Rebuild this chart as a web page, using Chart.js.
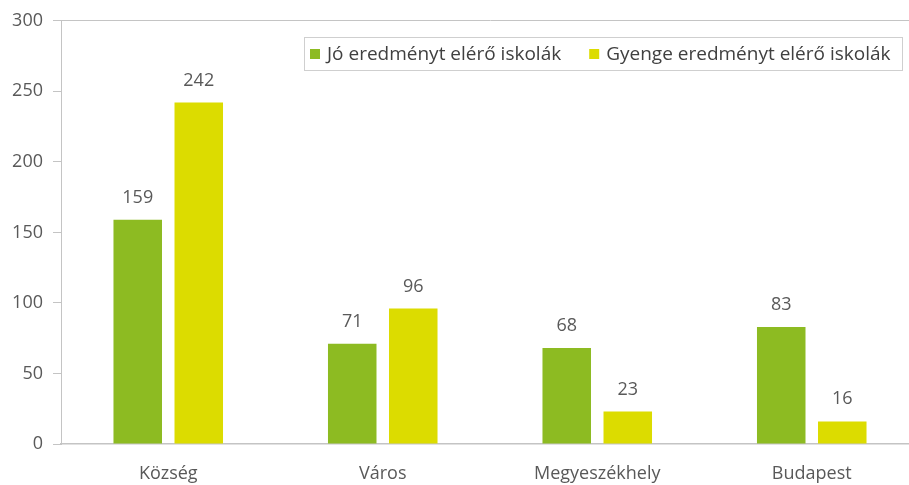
<!DOCTYPE html>
<html>
<head>
<meta charset="utf-8">
<script src="https://cdn.jsdelivr.net/npm/chart.js@4/dist/chart.umd.min.js"></script>
<style>
  html, body { margin: 0; padding: 0; background: #ffffff; overflow: hidden; }
  #wrap { width: 909px; height: 485px; position: relative; overflow: hidden; }
  #chart { display: block; }
</style>
</head>
<body>
<div id="wrap"><canvas id="chart" width="919" height="485"></canvas></div>
<script>
// Settlement types and number of schools per group
const categories = ['Község', 'Város', 'Megyeszékhely', 'Budapest'];
const seriesNames = ['Jó eredményt elérő iskolák', 'Gyenge eredményt elérő iskolák'];
const goodSchools = [159, 71, 68, 83];
const weakSchools = [242, 96, 23, 16];
const yTicks = [0, 50, 100, 150, 200, 250, 300];

const GREEN = '#8dbb22';
const YELLOW = '#dcdc00';
const TEXT = '#595959';
const AXIS = '#c4c4c4';
const FONT = "'Open Sans', 'DejaVu Sans', sans-serif";
const FONT_SIZE = 18;
const LEGEND_FONT_SIZE = 19;

// Value labels above each bar
const valueLabels = {
  id: 'valueLabels',
  afterDatasetsDraw(chart) {
    const ctx = chart.ctx;
    ctx.save();
    ctx.font = FONT_SIZE + 'px ' + FONT;
    ctx.fillStyle = TEXT;
    ctx.textAlign = 'center';
    ctx.textBaseline = 'alphabetic';
    chart.data.datasets.forEach((ds, i) => {
      chart.getDatasetMeta(i).data.forEach((bar, j) => {
        ctx.fillText(String(ds.data[j]), bar.x, bar.y - 17);
      });
    });
    ctx.restore();
  }
};

// Boxed legend inside the plot area, top right
const boxedLegend = {
  id: 'boxedLegend',
  afterDraw(chart) {
    const ctx = chart.ctx;
    ctx.save();
    ctx.font = LEGEND_FONT_SIZE + 'px ' + FONT;
    const left = 304, right = 902, top = 37, bottom = 70;
    const sq = 10, gapSq = 7, gapItem = 28;
    ctx.strokeStyle = '#cfcfcf';
    ctx.lineWidth = 1;
    ctx.strokeRect(left + 0.5, top + 0.5, right - left, bottom - top);
    const cy = (top + bottom) / 2;
    let x = left + 6;
    chart.data.datasets.forEach(ds => {
      ctx.fillStyle = ds.backgroundColor;
      ctx.fillRect(x, Math.round(cy - sq / 2), sq, sq);
      x += sq + gapSq;
      ctx.fillStyle = '#404040';
      ctx.textBaseline = 'middle';
      ctx.textAlign = 'left';
      ctx.fillText(ds.label, x, cy + 1);
      x += ctx.measureText(ds.label).width + gapItem;
    });
    ctx.restore();
  }
};

new Chart(document.getElementById('chart'), {
  type: 'bar',
  data: {
    labels: categories,
    datasets: [
      { label: seriesNames[0], data: goodSchools, backgroundColor: GREEN,
        categoryPercentage: 0.569, barPercentage: 0.795 },
      { label: seriesNames[1], data: weakSchools, backgroundColor: YELLOW,
        categoryPercentage: 0.569, barPercentage: 0.795 }
    ]
  },
  options: {
    responsive: false,
    animation: false,
    layout: { padding: { top: 20, right: 0, left: 0, bottom: 0 } },
    plugins: {
      legend: { display: false },
      tooltip: { enabled: false }
    },
    scales: {
      x: {
        grid: { display: false, drawTicks: false },
        border: { display: true, color: AXIS, width: 1.5 },
        ticks: { color: TEXT, font: { family: FONT, size: FONT_SIZE }, padding: 19 },
        afterFit(scale) { scale.height = 41; }
      },
      y: {
        min: 0, max: 300,
        afterBuildTicks(scale) { scale.ticks = yTicks.map(v => ({ value: v })); },
        grid: {
          drawOnChartArea: true,
          color: ctx => (ctx.tick && ctx.tick.value === 300 ? AXIS : 'rgba(0,0,0,0)'),
          tickColor: AXIS,
          tickLength: 8
        },
        border: { display: true, color: AXIS, width: 1 },
        ticks: { color: TEXT, font: { family: FONT, size: FONT_SIZE }, padding: 10 },
        afterFit(scale) { scale.width = 61; }
      }
    }
  },
  plugins: [valueLabels, boxedLegend]
});
</script>
</body>
</html>
